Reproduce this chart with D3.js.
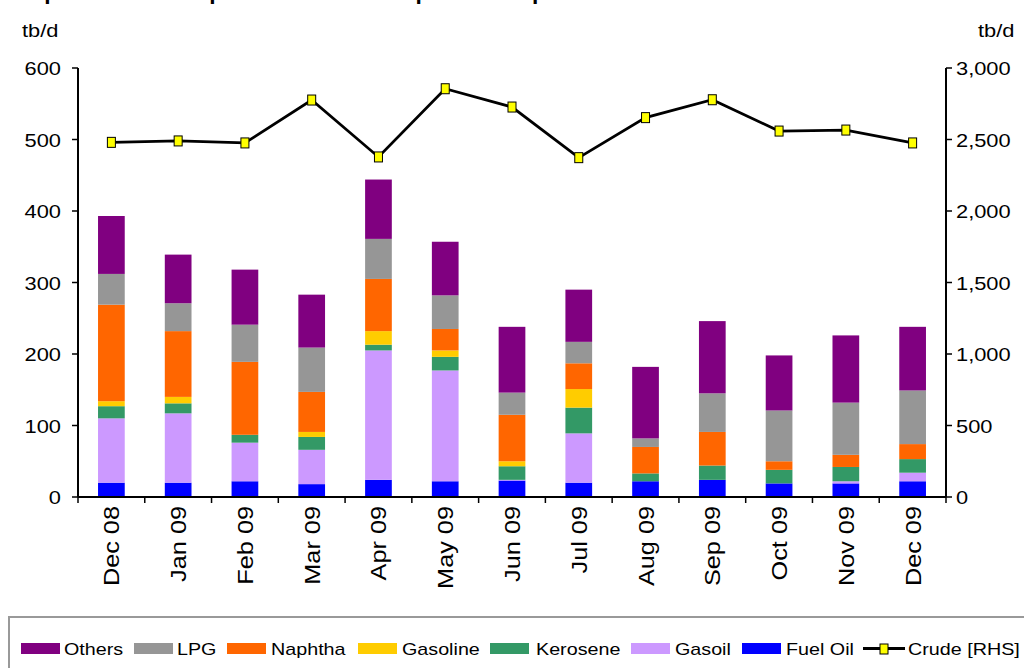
<!DOCTYPE html>
<html><head><meta charset="utf-8">
<script src="https://cdn.jsdelivr.net/npm/d3@7"></script>
<style>
html,body{margin:0;padding:0;background:#fff;}
svg{display:block;font-family:"Liberation Sans",Arial,sans-serif;}
</style></head>
<body><svg id="c" width="1024" height="668"></svg>
<script>
const categories = ["Dec 08","Jan 09","Feb 09","Mar 09","Apr 09","May 09","Jun 09","Jul 09","Aug 09","Sep 09","Oct 09","Nov 09","Dec 09"];
const fuelOil  = [20,20,22,18,24,22,23,20,22,24,19,19,22];
const gasoil   = [90,97,54,48,181,155,1,69,0,0,0,3,12];
const kerosene = [17,14,11,18,8,19,19,36,11,20,19,20,19];
const gasoline = [7,9,0,7,19,9,7,26,0,0,0,0,0];
const naphtha  = [135,92,102,56,73,30,65,36,37,47,12,17,21];
const lpg      = [43,39,52,62,56,47,31,30,12,54,71,73,75];
const others   = [81,68,77,74,83,75,92,73,100,101,77,94,89];
const crude    = [2480,2490,2476,2776,2378,2855,2727,2373,2653,2778,2559,2566,2476];
const leftTicks  = [0,100,200,300,400,500,600];
const rightTicks = [0,500,1000,1500,2000,2500,3000];

const seriesNames  = ["Fuel Oil","Gasoil","Kerosene","Gasoline","Naphtha","LPG","Others"];
const seriesValues = [fuelOil,gasoil,kerosene,gasoline,naphtha,lpg,others];
const seriesColors = ["#0000FF","#CC99FF","#339966","#FFCC00","#FF6600","#969696","#800080"];

const svg = d3.select("#c");
const X0 = 78, X1 = 946, Y0 = 497, Y1 = 68;
const sx = 1.15; // horizontal text stretch

const x = d3.scaleBand().domain(categories).range([X0, X1]).paddingInner(0.6).paddingOuter(0.3);
const yL = d3.scaleLinear().domain([0,600]).range([Y0, Y1]);
const yR = d3.scaleLinear().domain([0,3000]).range([Y0, Y1]);

// title (cut off at top, as in the reference)
svg.append("text").attr("font-weight","bold").attr("font-size",19)
  .attr("transform",`translate(5,0) scale(1.2,1)`)
  .text("Graph 9: India's imports of crude and petroleum products");

// stacked data
const rows = categories.map((c,i)=>{const o={cat:c}; seriesNames.forEach((n,k)=>o[n]=seriesValues[k][i]); return o;});
const stack = d3.stack().keys(seriesNames)(rows);
const layers = svg.append("g").selectAll("g").data(stack).join("g")
  .attr("fill",(d,i)=>seriesColors[i]);
layers.selectAll("rect").data(d=>d).join("rect")
  .attr("x",d=>x(d.data.cat)).attr("width",x.bandwidth())
  .attr("y",d=>yL(d[1])).attr("height",d=>Math.max(0,yL(d[0])-yL(d[1])));

// axes
const axisG = svg.append("g").attr("stroke","#000").attr("stroke-width",2);
axisG.append("line").attr("x1",X0).attr("x2",X0).attr("y1",Y1).attr("y2",Y0);
axisG.append("line").attr("x1",X1).attr("x2",X1).attr("y1",Y1).attr("y2",Y0);
axisG.append("line").attr("x1",X0).attr("x2",X1).attr("y1",Y0).attr("y2",Y0);

const fs = 19;
leftTicks.forEach(t=>{
  axisG.append("line").attr("x1",X0-6).attr("x2",X0).attr("y1",yL(t)).attr("y2",yL(t)).attr("stroke-width",1.5);
  svg.append("text").attr("font-size",fs).attr("text-anchor","end")
    .attr("transform",`translate(${X0-17},${yL(t)+7}) scale(${sx},1)`).text(d3.format(",")(t));
});
rightTicks.forEach(t=>{
  axisG.append("line").attr("x1",X1).attr("x2",X1+6).attr("y1",yR(t)).attr("y2",yR(t)).attr("stroke-width",1.5);
  svg.append("text").attr("font-size",fs).attr("text-anchor","start")
    .attr("transform",`translate(${X1+10},${yR(t)+7}) scale(${sx},1)`).text(d3.format(",")(t));
});
const step = x.step();
for(let i=0;i<=categories.length;i++){
  const xx = X0 + i*step;
  axisG.append("line").attr("x1",xx).attr("x2",xx).attr("y1",Y0).attr("y2",Y0+6).attr("stroke-width",1.5);
}
categories.forEach(c=>{
  const cx = x(c)+x.bandwidth()/2;
  svg.append("text").attr("font-size",22).attr("text-anchor","end")
    .attr("transform",`translate(${cx+8},${Y0+9}) rotate(-90) scale(1.15,1)`).text(c);
});

svg.append("text").attr("font-size",fs).attr("transform",`translate(22,37) scale(${sx},1)`).text("tb/d");
svg.append("text").attr("font-size",fs).attr("transform",`translate(978,37) scale(${sx},1)`).text("tb/d");

// crude line
const line = d3.line().x((d,i)=>x(categories[i])+x.bandwidth()/2).y(d=>yR(d));
svg.append("path").datum(crude).attr("d",line).attr("fill","none").attr("stroke","#000").attr("stroke-width",2.8);
svg.append("g").selectAll("rect").data(crude).join("rect")
  .attr("x",(d,i)=>x(categories[i])+x.bandwidth()/2-4).attr("y",d=>yR(d)-5)
  .attr("width",8).attr("height",10).attr("fill","#FFFF00").attr("stroke","#000").attr("stroke-width",1);

// legend
svg.append("rect").attr("x",9).attr("y",617).attr("width",1100).attr("height",100)
  .attr("fill","none").attr("stroke","#999").attr("stroke-width",2);
const legendItems = [
  {name:"Others",color:"#800080",sw:21,tx:64},
  {name:"LPG",color:"#969696",sw:134,tx:177},
  {name:"Naphtha",color:"#FF6600",sw:227,tx:271},
  {name:"Gasoline",color:"#FFCC00",sw:358,tx:402},
  {name:"Kerosene",color:"#339966",sw:490,tx:536},
  {name:"Gasoil",color:"#CC99FF",sw:631,tx:675},
  {name:"Fuel Oil",color:"#0000FF",sw:742,tx:786}
];
const lg = svg.append("g");
legendItems.forEach(it=>{
  lg.append("rect").attr("x",it.sw).attr("y",643).attr("width",39).attr("height",11).attr("fill",it.color);
  lg.append("text").attr("font-size",17).attr("transform",`translate(${it.tx},655) scale(1.16,1)`).text(it.name);
});
lg.append("line").attr("x1",863).attr("x2",905).attr("y1",648.5).attr("y2",648.5).attr("stroke","#000").attr("stroke-width",2.8);
lg.append("rect").attr("x",880).attr("y",644).attr("width",8).attr("height",10).attr("fill","#FFFF00").attr("stroke","#000");
lg.append("text").attr("font-size",17).attr("transform",`translate(908,655) scale(1.16,1)`).text("Crude [RHS]");
</script></body></html>
